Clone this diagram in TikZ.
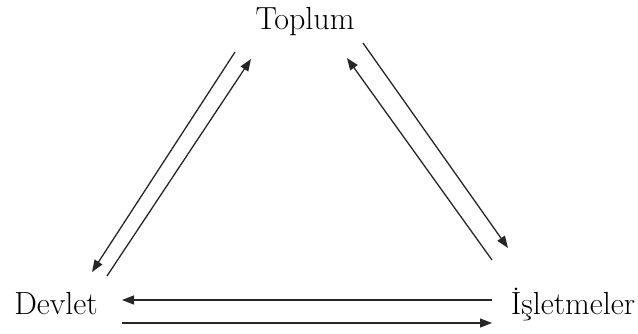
\documentclass[tikz,border=0pt]{standalone}
\usepackage{tikz}
\usetikzlibrary{arrows.meta,positioning}

\begin{document}
\begin{tikzpicture}[
  x=1pt, y=-1pt,
  font=\fontsize{32}{36}\selectfont,
  actor/.style = {inner sep=0pt, anchor=base},
  arr/.style = {-{Triangle[length=12pt,width=9pt]}, line width=1.3pt, black!85},
]
\useasboundingbox (0,0) rectangle (638,333);

\node[actor] at (305,29)  (toplum)   {Toplum};
\node[actor] at (56,314)  (devlet)   {Devlet};
\node[actor] at (573,314) (isletme)  {\.I\c{s}letmeler};

% end points of the paired flows
\coordinate (td1) at (235,52);  \coordinate (td2) at (92,272);
\coordinate (dt1) at (107,276); \coordinate (dt2) at (251,59);
\coordinate (ti1) at (363,43);  \coordinate (ti2) at (508,248);
\coordinate (it1) at (492,260); \coordinate (it2) at (347,58);
\coordinate (id1) at (492,300); \coordinate (id2) at (122,300);
\coordinate (di1) at (122,323); \coordinate (di2) at (492,323);

\draw[arr] (td1) -- (td2);
\draw[arr] (dt1) -- (dt2);
\draw[arr] (ti1) -- (ti2);
\draw[arr] (it1) -- (it2);
\draw[arr] (id1) -- (id2);
\draw[arr] (di1) -- (di2);
\end{tikzpicture}
\end{document}
